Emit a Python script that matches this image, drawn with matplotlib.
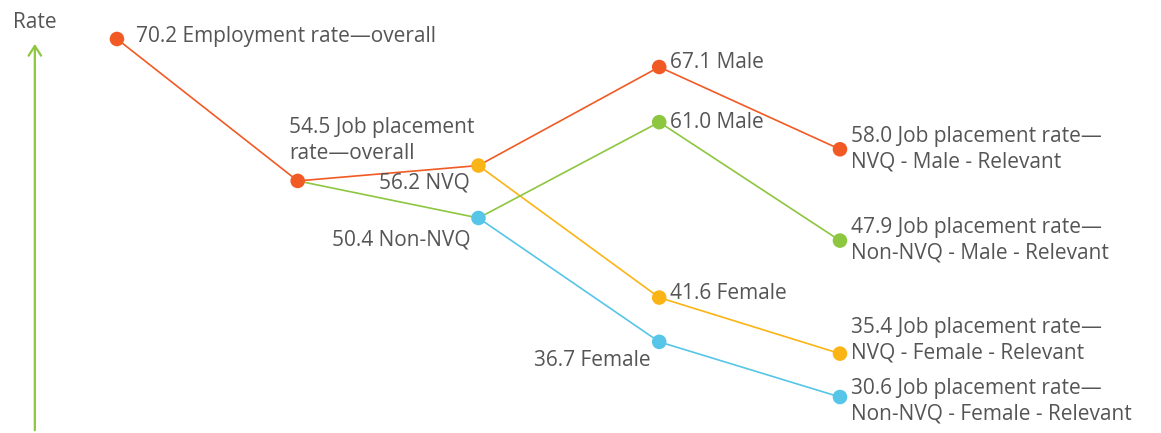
import matplotlib.pyplot as plt

# =================================
# DATA
# =================================

# stage of each node (0 = overall employment ... 4 = leaf)
stages = [0, 1, 2, 2, 3, 3, 3, 3, 4, 4, 4, 4]
rates = [70.2, 54.5, 56.2, 50.4, 67.1, 61.0, 41.6, 36.7, 58.0, 47.9, 35.4, 30.6]
names = [
    "Employment rate\u2014overall",
    "Job placement\nrate\u2014overall",
    "NVQ",
    "Non-NVQ",
    "Male",
    "Male",
    "Female",
    "Female",
    "Job placement rate\u2014\nNVQ - Male - Relevant",
    "Job placement rate\u2014\nNon-NVQ - Male - Relevant",
    "Job placement rate\u2014\nNVQ - Female - Relevant",
    "Job placement rate\u2014\nNon-NVQ - Female - Relevant",
]

# parent -> child links
links = [(0, 1), (1, 2), (1, 3), (2, 4), (2, 6), (3, 5), (3, 7),
         (4, 8), (5, 9), (6, 10), (7, 11)]

# =================================
# STYLE
# =================================

ORANGE = "#f15a24"
GREEN = "#8dc63f"
YELLOW = "#fbb416"
CYAN = "#56c5e8"
TEXT = "#555555"

node_colors = [ORANGE, ORANGE, YELLOW, CYAN, ORANGE, GREEN, YELLOW, CYAN,
               ORANGE, GREEN, YELLOW, CYAN]
link_colors = [ORANGE, ORANGE, GREEN, ORANGE, YELLOW, GREEN, CYAN,
               ORANGE, GREEN, YELLOW, CYAN]

# label placement: (dx, dy in points, ha, va)
label_pos = [
    (14, 2, "left", "center"),
    (-6, 12, "left", "bottom"),
    (-6, -5, "right", "top"),
    (-6, -8, "right", "top"),
    (8, 3, "left", "center"),
    (8, 0, "left", "center"),
    (8, 3, "left", "center"),
    (-6, -6, "right", "top"),
    (8, 0, "left", "center"),
    (8, 0, "left", "center"),
    (8, -7, "left", "bottom"),
    (8, -3, "left", "center"),
]

plt.rcParams["font.family"] = ["Open Sans", "DejaVu Sans"]

fig = plt.figure(figsize=(11.61, 4.33), dpi=100)
ax = fig.add_axes([0, 0, 1, 1])

# =================================
# LINKS AND NODES
# =================================

for (a, b), c in zip(links, link_colors):
    ax.plot([stages[a], stages[b]], [rates[a], rates[b]],
            color=c, linewidth=1.2, zorder=1)

ax.scatter(stages, rates, s=110, c=node_colors, zorder=3, linewidths=0)

for i in range(len(rates)):
    dx, dy, ha, va = label_pos[i]
    ax.annotate(f"{rates[i]:.1f} {names[i]}", (stages[i], rates[i]),
                xytext=(dx, dy), textcoords="offset points",
                ha=ha, va=va, fontsize=15, color=TEXT, linespacing=1.3)

# =================================
# AXIS ARROW
# =================================

ax.annotate("", xy=(0.030, 0.905), xytext=(0.030, 0.0),
            xycoords="axes fraction",
            arrowprops=dict(arrowstyle="->,head_length=0.7,head_width=0.45",
                            color=GREEN, lw=1.6))
ax.text(0.030, 0.948, "Rate", transform=ax.transAxes, ha="center",
        va="center", fontsize=15, color=TEXT)

ax.set_xlim(-0.647, 5.776)
ax.set_ylim(26.62, 74.51)
ax.axis("off")

plt.savefig("out.png", dpi=100)
